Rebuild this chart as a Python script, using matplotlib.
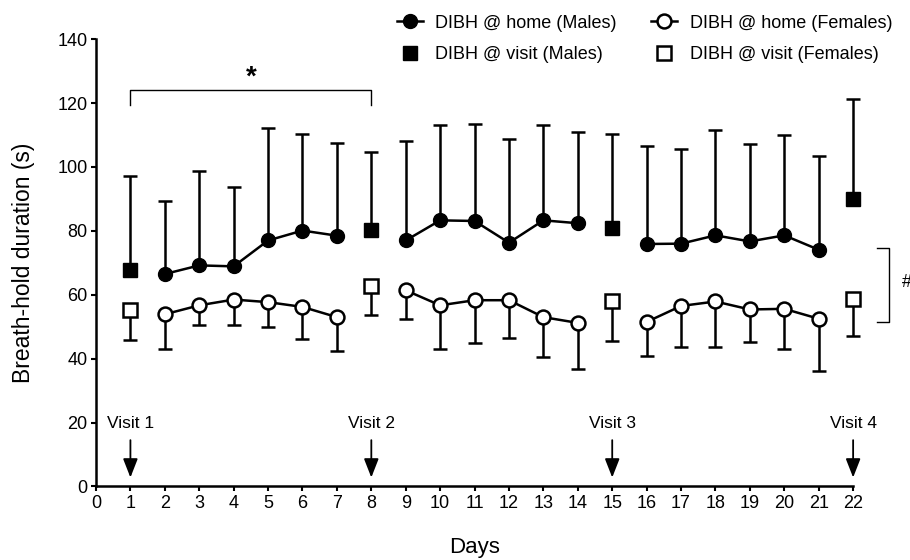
import numpy as np
import matplotlib
matplotlib.use("Agg")
import matplotlib.pyplot as plt
from matplotlib.lines import Line2D

plt.rcParams['font.family'] = ['Liberation Sans', 'DejaVu Sans']

# Home sessions (three weeks), visit days
home_weeks = [[2, 3, 4, 5, 6, 7], [9, 10, 11, 12, 13, 14], [16, 17, 18, 19, 20, 21]]
visit_days = [1, 8, 15, 22]
visit_labels = ["Visit 1", "Visit 2", "Visit 3", "Visit 4"]

# Males: mean and upper SD end
male_home_mean = [[66.5, 69.2, 68.9, 77.0, 80.1, 78.5],
                  [77.0, 83.3, 83.1, 76.3, 83.3, 82.4],
                  [75.9, 76.0, 78.6, 76.7, 78.6, 74.1]]
male_home_upper = [[89.4, 98.7, 93.8, 112.3, 110.4, 107.6],
                   [108.2, 113.2, 113.4, 108.8, 113.2, 110.8],
                   [106.6, 105.7, 111.7, 107.3, 110.1, 103.4]]
male_visit_mean = [67.8, 80.3, 81.0, 90.0]
male_visit_upper = [97.2, 104.7, 110.2, 121.4]

# Females: mean and lower SD end
female_home_mean = [[53.9, 56.7, 58.5, 57.7, 56.2, 53.0],
                    [61.4, 56.7, 58.3, 58.3, 53.0, 51.2],
                    [51.5, 56.5, 57.9, 55.4, 55.6, 52.5]]
female_home_lower = [[43.0, 50.4, 50.4, 49.9, 46.2, 42.4],
                     [52.3, 43.1, 45.0, 46.6, 40.5, 36.9],
                     [40.7, 43.6, 43.6, 45.1, 43.1, 36.0]]
female_visit_mean = [55.1, 62.7, 58.0, 58.6]
female_visit_lower = [45.7, 53.7, 45.4, 47.0]

fig = plt.figure(figsize=(9.1, 5.6), dpi=100)
ax = fig.add_axes([0.1055, 0.1313, 0.832, 0.7987])

lw = 1.8
ms = 10
cap = 5

def errbar(x, y, lo, hi):
    eb = ax.errorbar(x, y, yerr=[lo, hi], fmt='none', ecolor='black',
                     elinewidth=lw, capsize=cap, capthick=lw, zorder=2)
    for art in eb.lines[1] + eb.lines[2]:
        art.set_clip_on(False)

for days, m, up in zip(home_weeks, male_home_mean, male_home_upper):
    m = np.array(m); up = np.array(up)
    errbar(days, m, np.zeros_like(m), up - m)
    ax.plot(days, m, '-o', color='black', lw=lw, ms=ms, mfc='black',
            mec='black', zorder=4, clip_on=False)

for days, f, lo in zip(home_weeks, female_home_mean, female_home_lower):
    f = np.array(f); lo = np.array(lo)
    errbar(days, f, f - lo, np.zeros_like(f))
    ax.plot(days, f, '-o', color='black', lw=lw, ms=ms, mfc='white',
            mec='black', mew=lw, zorder=4, clip_on=False)

mv = np.array(male_visit_mean); mu = np.array(male_visit_upper)
errbar(visit_days, mv, np.zeros_like(mv), mu - mv)
ax.plot(visit_days, mv, 's', color='black', ms=ms - 0.5, zorder=4,
        clip_on=False)

fv = np.array(female_visit_mean); fl = np.array(female_visit_lower)
errbar(visit_days, fv, fv - fl, np.zeros_like(fv))
ax.plot(visit_days, fv, 's', mfc='white', mec='black', mew=lw,
        ms=ms - 0.5, zorder=4, clip_on=False)

# Visit arrows
for d, lab in zip(visit_days, visit_labels):
    ax.annotate('', xy=(d, 2.8), xytext=(d, 14.5),
                arrowprops=dict(arrowstyle='-|>,head_width=0.45,head_length=1.15',
                                color='black', lw=1.3, shrinkA=0, shrinkB=0),
                annotation_clip=False)
    ax.text(d, 19.6, lab, ha='center', va='center', fontsize=12.5)

# Significance bracket (visit 1 vs visit 2)
ax.plot([1, 1, 8, 8], [119.5, 124, 124, 119.5], color='black', lw=1.0,
        clip_on=False)
ax.text(4.5, 128, '*', ha='center', va='center', fontsize=20,
        fontweight='bold')

# Sex difference bracket
ax.plot([22.7, 23.05, 23.05, 22.7], [74.5, 74.5, 51.5, 51.5], color='black',
        lw=1.0, clip_on=False)
ax.text(23.55, 64, '#', ha='center', va='center', fontsize=13)

ax.set_xlim(0, 22)
ax.set_ylim(0, 140)
ax.set_xticks(range(0, 23))
ax.set_yticks(range(0, 141, 20))
ax.tick_params(axis='both', labelsize=13, width=1.5, length=3.5,
               direction='out', pad=2.5)
for s in ['top', 'right']:
    ax.spines[s].set_visible(False)
for s in ['left', 'bottom']:
    ax.spines[s].set_linewidth(1.8)

ax.set_ylabel('Breath-hold duration (s)', fontsize=16.5, labelpad=16)
ax.set_xlabel('Days', fontsize=16, labelpad=18)

handles = [
    Line2D([], [], color='black', lw=lw, marker='o', ms=ms, mfc='black'),
    Line2D([], [], color='black', lw=0, marker='s', ms=ms - 0.5, mfc='black'),
    Line2D([], [], color='black', lw=lw, marker='o', ms=ms, mfc='white', mew=lw),
    Line2D([], [], color='black', lw=0, marker='s', ms=ms - 0.5, mfc='white', mew=lw),
]
labels = ['DIBH @ home (Males)', 'DIBH @ visit (Males)',
          'DIBH @ home (Females)', 'DIBH @ visit (Females)']
fig.legend(handles, labels, ncol=2, loc='upper left',
           bbox_to_anchor=(0.418, 1.003), frameon=False, fontsize=13,
           handlelength=1.45, handletextpad=0.7, columnspacing=1.9,
           labelspacing=0.8)

fig.savefig('out.png', dpi=100)
